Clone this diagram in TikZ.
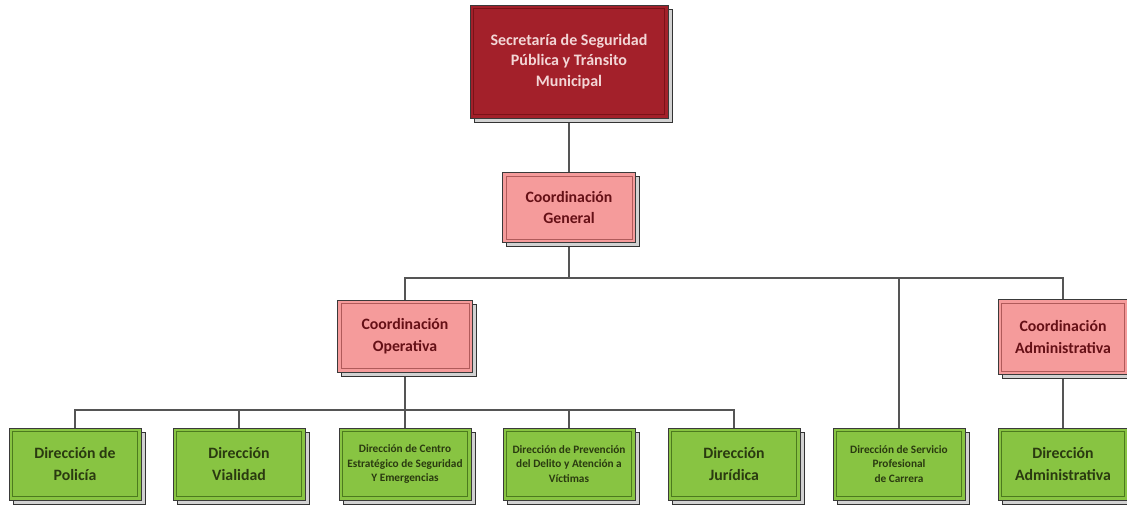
\documentclass[tikz,border=0pt]{standalone}
\usepackage{fontspec}
\setmainfont{Carlito}
\usetikzlibrary{shadows,backgrounds}
\definecolor{topred}{HTML}{A3202A}
\definecolor{toptext}{HTML}{F3D6D6}
\definecolor{topinner}{HTML}{7A1218}
\definecolor{pinkfill}{HTML}{F59B9B}
\definecolor{pinktext}{HTML}{651016}
\definecolor{pinkinner}{HTML}{B05A5A}
\definecolor{greenfill}{HTML}{88C442}
\definecolor{greentext}{HTML}{2A3A10}
\definecolor{greeninner}{HTML}{4C7A1E}
\definecolor{linec}{HTML}{555555}
\definecolor{borderc}{HTML}{3A3A3A}
\tikzset{
  orgbox/.style 2 args={draw=borderc, line width=0.8pt, fill=#1, rectangle,
    align=center, inner sep=2pt, font=\bfseries,
    general shadow={fill=gray!35, draw=black!80, line width=0.8pt, shadow xshift=4pt, shadow yshift=-4pt},
    path picture={\draw[#2, line width=0.8pt] ([shift={(3.5pt,3.5pt)}]path picture bounding box.south west) rectangle ([shift={(-3.5pt,-3.5pt)}]path picture bounding box.north east);}},
  topbox/.style={orgbox={topred}{topinner}, minimum width=198pt, minimum height=113pt, text=toptext, font=\bfseries\fontsize{16}{20.5}\selectfont},
  coordbox/.style={orgbox={pinkfill}{pinkinner}, minimum width=133pt, minimum height=70pt, text=pinktext, font=\bfseries\fontsize{15.8}{21.5}\selectfont},
  dirbox/.style={orgbox={greenfill}{greeninner}, minimum width=132pt, minimum height=72pt, text=greentext, font=\bfseries\fontsize{15.8}{22}\selectfont},
  dirsmall/.style={dirbox, font=\bfseries\fontsize{11.3}{14.5}\selectfont},
  conn/.style={draw=linec, line width=1.6pt},
}
\begin{document}
\begin{tikzpicture}[x=1pt, y=-1pt]
\useasboundingbox (0,0) rectangle (1127,508);
% nodes
\node[topbox] (top) at (569,61.5) {Secretaría de Seguridad\\Pública y Tránsito\\Municipal};
\node[coordbox] (cg) at (569,207.5) {Coordinación\\General};
\node[coordbox, minimum width=135pt, minimum height=72pt] (co) at (405,336) {Coordinación\\Operativa};
\node[coordbox, minimum width=130pt, minimum height=75pt] (ca) at (1063,337) {Coordinación\\Administrativa};
\node[dirbox] (d1) at (75,464) {Dirección de\\Policía};
\node[dirbox] (d2) at (239,464) {Dirección\\Vialidad};
\node[dirsmall] (d3) at (405,464) {Dirección de Centro\\Estratégico de Seguridad\\Y Emergencias};
\node[dirsmall] (d4) at (569,464) {Dirección de Prevención\\del Delito y Atención a\\Víctimas};
\node[dirbox] (d5) at (734,464) {Dirección\\Jurídica};
\node[dirsmall] (d6) at (899,464) {Dirección de Servicio\\Profesional\\de Carrera};
\node[dirbox, minimum width=130pt] (d7) at (1063,464) {Dirección\\Administrativa};
% connectors
\coordinate (b1) at (569,278);
\coordinate (b2) at (405,410);
\begin{scope}[on background layer]
\fill[white] (0,0) rectangle (1127,508);
\draw[conn] (top.south) -- (cg.north);
\draw[conn] (cg.south) -- (b1);
\draw[conn] (co.north) |- (b1);
\draw[conn] (d6.north) |- (b1);
\draw[conn] (ca.north) |- (b1);
\draw[conn] (co.south) -- (b2);
\draw[conn] (d1.north) |- (b2);
\draw[conn] (d2.north) |- (b2);
\draw[conn] (d3.north) |- (b2);
\draw[conn] (d4.north) |- (b2);
\draw[conn] (d5.north) |- (b2);
\draw[conn] (ca.south) -- (d7.north);
\end{scope}
\end{tikzpicture}
\end{document}
